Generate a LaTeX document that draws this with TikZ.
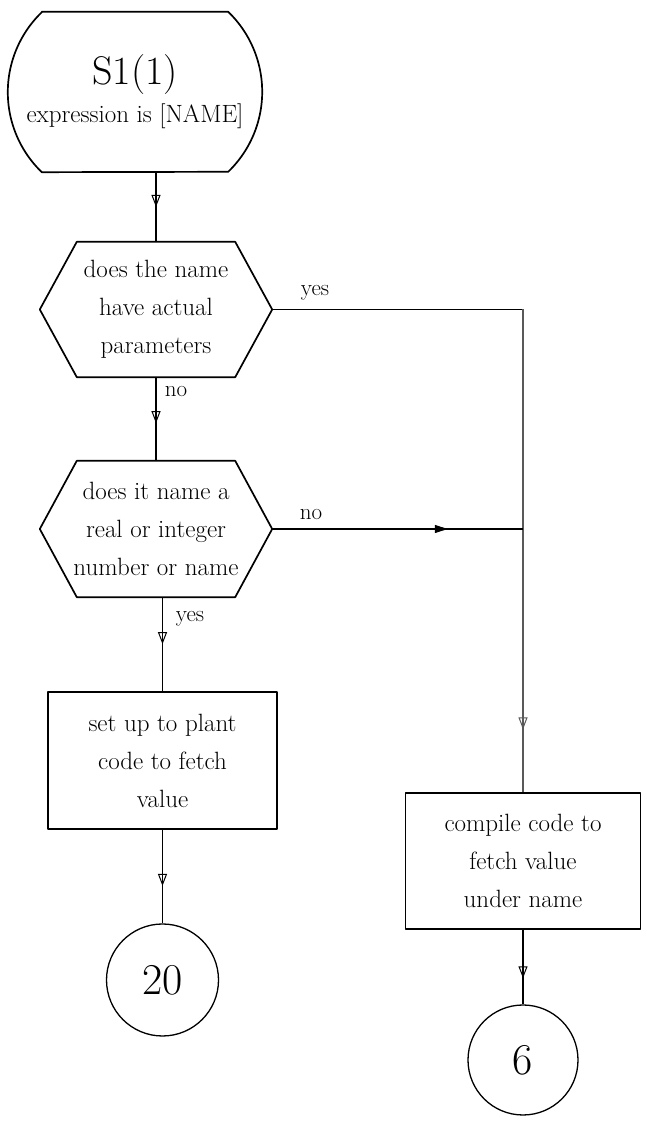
\documentclass[tikz,border=0pt]{standalone}
\usetikzlibrary{arrows.meta,decorations.markings}
\begin{document}
\begin{tikzpicture}[x=1pt,y=1pt,
  txt/.style={inner sep=0pt, align=center},
  bodyfont/.style={font=\fontsize{25}{38}\selectfont},
  shapeline/.style={line width=1.7pt, line join=round},
  conn/.style={line width=1.1pt},
  midopen/.style={postaction={decorate},decoration={markings,
     mark=at position #1 with {\arrow{Triangle[open,width=9pt,length=12pt,line width=1pt]}}}},
  midfill/.style={postaction={decorate},decoration={markings,
     mark=at position #1 with {\arrow{Triangle[width=8pt,length=13pt]}}}},
  lbl/.style={inner sep=0pt, font=\fontsize{23}{23}\selectfont},
  endcircle/.style={circle, draw, line width=1.3pt, minimum size=#1, inner sep=0pt, font=\fontsize{44}{44}\selectfont}
]
\useasboundingbox (0,0) rectangle (646,1124);
\fill[white] (0,0) rectangle (646,1124);

% start terminal
\node[txt, minimum width=254pt, minimum height=160pt] (s1) at (135,1032)
  {{\fontsize{40}{46}\selectfont S1(1)}\\[8pt]{\fontsize{25}{28}\selectfont expression is [NAME]}};
\draw[shapeline] ([xshift=34pt]s1.north west) -- ([xshift=-34pt]s1.north east)
  arc[start angle=46.05, end angle=-46.05, radius=111.12pt]
  -- ([xshift=34pt]s1.south west)
  arc[start angle=226.05, end angle=133.95, radius=111.12pt] -- cycle;

% decision 1
\node[txt, bodyfont, minimum width=232pt, minimum height=135pt] (h1) at (156,814.5)
  {does the name\\have actual\\parameters};
\draw[shapeline] (h1.west) -- ([xshift=37pt]h1.north west) -- ([xshift=-37pt]h1.north east)
  -- (h1.east) -- ([xshift=-37pt]h1.south east) -- ([xshift=37pt]h1.south west) -- cycle;

% decision 2
\node[txt, bodyfont, minimum width=232pt, minimum height=136pt] (h2) at (156,595)
  {does it name a\\real or integer\\number or name};
\draw[shapeline] (h2.west) -- ([xshift=37pt]h2.north west) -- ([xshift=-37pt]h2.north east)
  -- (h2.east) -- ([xshift=-37pt]h2.south east) -- ([xshift=37pt]h2.south west) -- cycle;

% process boxes
\node[txt, bodyfont, draw, shapeline, minimum width=229pt, minimum height=137pt] (setup) at (162.5,363.5)
  {set up to plant\\code to fetch\\value};
\node[txt, bodyfont, draw, shapeline, minimum width=235pt, minimum height=136pt] (cb) at (523,263)
  {compile code to\\fetch value\\under name};

% terminal connectors
\node[endcircle=112pt] (c20) at (162.5,144) {20};
\node[endcircle=110pt] (c6) at (523,64) {6};

\coordinate (j1) at (523,814.5);

\draw[conn, midopen=0.5] (s1.south -| h1.north) -- (h1.north);
\draw[conn, midopen=0.55] (h1.south) -- (h2.north);
\draw[conn, midopen=0.5] (h2.south -| setup.north) -- (setup.north);
\draw[conn, midopen=0.6] (setup.south) -- (c20.north);
\draw[line width=1.6pt] (h1.east) -- (j1);
\draw[conn, black!65, midopen=0.87] (j1) -- (cb.north);
\draw[conn, midfill=0.7] (h2.east) -- (h2.east -| j1);
\draw[conn, midopen=0.65] (cb.south) -- (c6.north);

% labels
\node[lbl] (lyes1) at (315,831) {yes};
\node[lbl] (lno1) at (176,732) {no};
\node[lbl] (lno2) at (311,609) {no};
\node[lbl] (lyes2) at (190,505) {yes};
\end{tikzpicture}
\end{document}
